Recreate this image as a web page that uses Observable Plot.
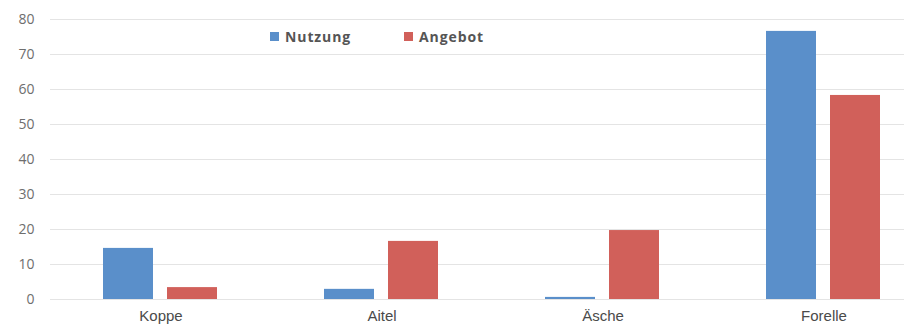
<!DOCTYPE html>
<html>
<head>
<meta charset="utf-8">
<script src="https://cdn.jsdelivr.net/npm/d3@7"></script>
<script src="https://cdn.jsdelivr.net/npm/@observablehq/plot@0.6"></script>
<style>
  html, body { margin: 0; padding: 0; background: #fff; }
  #chart { position: relative; width: 904px; height: 328px; overflow: hidden; }
  .legend { position: absolute; top: 27px; left: 270px; display: flex;
            font: 700 14px "Open Sans", sans-serif; letter-spacing: 0.9px; color: #555; }
  .legend span { display: inline-flex; align-items: center; }
  .legend span + span { position: absolute; left: 134px; }
  .legend i { display: inline-block; width: 9px; height: 9px; margin-right: 6px; }
</style>
</head>
<body>
<div id="chart"></div>
<script>
// Fish species
const categories = ["Koppe", "Aitel", "Äsche", "Forelle"];
// Usage vs. supply per species
const nutzung = [14.6, 2.9, 0.6, 76.6];
const angebot = [3.4, 16.6, 19.7, 58.3];
const seriesNames = ["Nutzung", "Angebot"];
const yTicks = [0, 10, 20, 30, 40, 50, 60, 70, 80];

const colors = {Nutzung: "#5a8fca", Angebot: "#d1605a"};

const rows = categories.flatMap((c, i) => [
  {cat: c, series: "Nutzung", value: nutzung[i]},
  {cat: c, series: "Angebot", value: angebot[i]}
]);

const chart = Plot.plot({
  width: 904,
  height: 328,
  marginLeft: 50,
  marginRight: 0,
  marginTop: 19,
  marginBottom: 29,
  style: {background: "#fff"},
  x: {domain: categories, range: [50, 934], padding: 0, label: null},
  y: {domain: [0, 80], label: null},
  marks: [
    Plot.ruleY(yTicks, {stroke: "#e4e4e4", strokeWidth: 1.2}),
    Plot.barY(rows.filter(d => d.series === "Nutzung"), {
      x: "cat", y: "value", fill: colors.Nutzung, insetLeft: 53, insetRight: 118
    }),
    Plot.barY(rows.filter(d => d.series === "Angebot"), {
      x: "cat", y: "value", fill: colors.Angebot, insetLeft: 117, insetRight: 54
    }),
    Plot.axisY({ticks: yTicks, tickSize: 0, tickPadding: 16,
      fontSize: 14, fill: "#6e6e6e", fontFamily: "'Open Sans', sans-serif",
      style: {letterSpacing: "1.3px"}}),
    Plot.axisX({tickSize: 0, tickPadding: 11, fontSize: 15,
      fill: "#4a4a4a", fontFamily: "'Liberation Sans', Arial, sans-serif",
      style: {letterSpacing: "1.5px"}})
  ]
});

const host = document.getElementById("chart");
host.appendChild(chart);

const legend = document.createElement("div");
legend.className = "legend";
legend.innerHTML = seriesNames
  .map(s => `<span><i style="background:${colors[s]}"></i>${s}</span>`)
  .join("");
host.appendChild(legend);
</script>
</body>
</html>
